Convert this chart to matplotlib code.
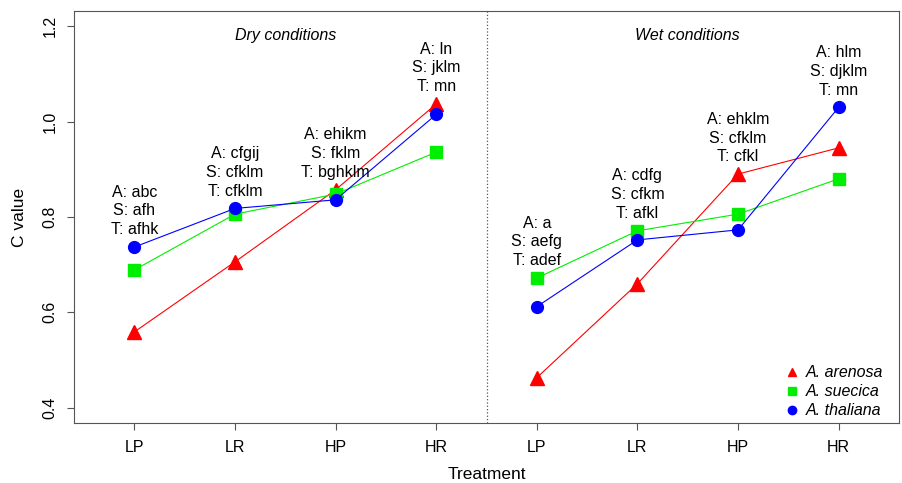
import matplotlib.pyplot as plt
import numpy as np

plt.rcParams['font.family'] = ['Liberation Sans', 'DejaVu Sans']

treatments = ['LP', 'LR', 'HP', 'HR']
species = ['A. arenosa', 'A. suecica', 'A. thaliana']
colors = ['#ff0000', '#00ee00', '#0000ff']
markers = ['^', 's', 'o']
msizes = [10, 8.5, 8.5]

# C values, dry then wet
dry = {
    'A. arenosa': [0.559, 0.706, 0.857, 1.037],
    'A. suecica': [0.689, 0.806, 0.848, 0.936],
    'A. thaliana': [0.737, 0.818, 0.836, 1.015],
}
wet = {
    'A. arenosa': [0.463, 0.660, 0.890, 0.945],
    'A. suecica': [0.672, 0.771, 0.806, 0.880],
    'A. thaliana': [0.612, 0.752, 0.773, 1.030],
}

dry_labels = ['A: abc\nS: afh\nT: afhk', 'A: cfgij\nS: cfklm\nT: cfklm',
              'A: ehikm\nS: fklm\nT: bghklm', 'A: ln\nS: jklm\nT: mn']
wet_labels = ['A: a\nS: aefg\nT: adef', 'A: cdfg\nS: cfkm\nT: afkl',
              'A: ehklm\nS: cfklm\nT: cfkl', 'A: hlm\nS: djklm\nT: mn']

fig = plt.figure(figsize=(9.03, 4.83), dpi=100)
ax = fig.add_axes([74/903, 1-423/483, (899-74)/903, (423-11)/483])

x_dry = np.arange(1, 5)
x_wet = np.arange(5, 9)

for sp, c, m, ms in zip(species, colors, markers, msizes):
    ax.plot(x_dry, dry[sp], color=c, lw=0.8, marker=m, ms=ms, mec=c, mfc=c, zorder=3)
    ax.plot(x_wet, wet[sp], color=c, lw=0.8, marker=m, ms=ms, mec=c, mfc=c, zorder=3)
    # small legend handle
    ax.plot([], [], ls='none', marker=m, color=c, ms=6, label=sp)

for xs, data, labs in [(x_dry, dry, dry_labels), (x_wet, wet, wet_labels)]:
    for i, x in enumerate(xs):
        top = max(data[sp][i] for sp in species)
        ax.annotate(labs[i], (x, top), xytext=(0, 7), textcoords='offset points',
                    ha='center', va='bottom', fontsize=11.5, linespacing=1.32)

ax.axvline(4.5, color='#555555', ls=':', lw=0.9)
ax.text(2.5, 1.181, 'Dry conditions', style='italic', ha='center', va='center', fontsize=11.5)
ax.text(6.5, 1.181, 'Wet conditions', style='italic', ha='center', va='center', fontsize=11.5)

ax.set_xlim(0.4, 8.6)
ax.set_ylim(0.368, 1.232)
ax.set_xticks(np.arange(1, 9))
ax.set_xticklabels(treatments * 2, fontsize=11.5)
ax.set_yticks([0.4, 0.6, 0.8, 1.0, 1.2])
ax.set_yticklabels(['0.4', '0.6', '0.8', '1.0', '1.2'], rotation=90, va='center', fontsize=11.5)
ax.tick_params(length=5, color='#555555', pad=7)
for s in ax.spines.values():
    s.set_color('#555555')
ax.set_xlabel('Treatment', fontsize=12.5, labelpad=9)
ax.set_ylabel('C value', fontsize=12.5, labelpad=11)

leg = ax.legend(loc='lower right', bbox_to_anchor=(0.99, -0.006), frameon=False,
                prop={'style': 'italic', 'size': 11.5},
                handlelength=0.8, handletextpad=0.5, labelspacing=0.25,
                borderaxespad=0.05)

fig.savefig('out.png', dpi=100)
